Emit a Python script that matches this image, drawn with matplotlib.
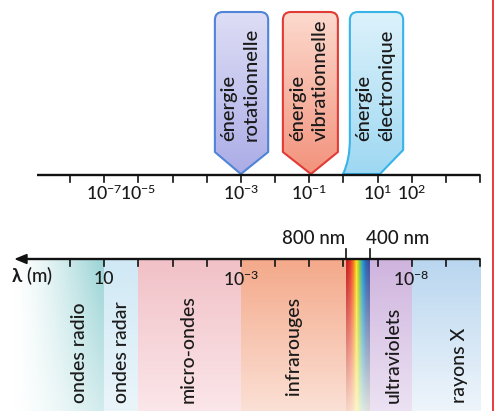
import numpy as np
import matplotlib
matplotlib.use('Agg')
import matplotlib.pyplot as plt
from matplotlib.path import Path
from matplotlib.patches import PathPatch, Polygon
from matplotlib.lines import Line2D
from matplotlib.colors import to_rgb

plt.rcParams['font.family'] = ['Lato', 'DejaVu Sans']
plt.rcParams['font.weight'] = 'medium'
plt.rcParams['mathtext.fontset'] = 'custom'
plt.rcParams['mathtext.rm'] = 'Lato'
plt.rcParams['mathtext.it'] = 'Lato:italic'
plt.rcParams['mathtext.bf'] = 'Lato:bold'

# ---------------- data ----------------
tick_index = list(range(13))
top_label_pos = [1, 2, 5, 7, 9, 10]
top_labels = [r'$10^{-7}$', r'$10^{-5}$', r'$10^{-3}$', r'$10^{-1}$', r'$10^{1}$', r'$10^{2}$']
bottom_label_pos = [1, 5, 10]
bottom_labels = ['10', r'$10^{-3}$', r'$10^{-8}$']
visible_edges = [8.08, 8.78]
visible_edge_labels = ['800 nm', '400 nm']

band_names = ['ondes radio', 'ondes radar', 'micro-ondes', 'infrarouges', 'ultraviolets', 'rayons X']
band_start = [-2.05, 1.0, 2.0, 5.0, 8.78, 10.0]
band_end = [1.0, 2.0, 5.0, 8.08, 10.0, 12.0]
band_top_color = ['#9ed5d7', '#d0e9f5', '#f1c1c7', '#f4a98a', '#cfb4de', '#b9d6ef']
band_bottom_color = ['#dff1f2', '#eaf5fa', '#fbe6e9', '#fbe0d5', '#ece2f3', '#eef5fb']
band_label_x = [0.29, 1.52, 3.45, 6.53, 9.45, 11.41]

rainbow_colors = ['#c8201e', '#e8362b', '#f47a20', '#f8e51d', '#8cc63f', '#1fa0d5', '#2a6ab3', '#3a4fa0']

energy_names = ['rotationnelle', 'vibrationnelle', 'électronique']
energy_left = [4.24, 6.23, 8.19]
energy_right = [5.80, 7.84, 9.75]
energy_tip_left = [5.0, 7.05, 7.99]
energy_tip_right = [5.0, 7.05, 9.07]
energy_top_color = ['#dedef6', '#fcdace', '#ddf2fb']
energy_bottom_color = ['#abace6', '#f3927c', '#9ed8f2']
energy_edge_color = ['#4f84d6', '#e23b36', '#37b3e8']

# ---------------- layout ----------------
W, H = 494, 411
SCALE = 34.17            # pixels per tick step
X0 = 70.0                # pixel position of tick 0
T_LEFT = -X0 / SCALE
T_RIGHT = (W - X0) / SCALE

TOP_AXIS_Y = 175
BOT_AXIS_Y = 259
BOX_TOP = 12
BOX_SHOULDER = 152
TEXT_COLOR = '#1a1a1a'
LABEL_SIZE = 13.5
TICK_LABEL_SIZE = 12.8

fig = plt.figure(figsize=(W / 100, H / 100), dpi=100)
ax = fig.add_axes([0, 0, 1, 1])
ax.set_xlim(T_LEFT, T_RIGHT)
ax.set_ylim(H, 0)
ax.axis('off')

def px(dx):
    return dx / SCALE

def vgrad(x0, x1, y0, y1, c_top, c_bot, zorder=1, clip=None):
    n = 128
    f = np.linspace(0, 1, n)[:, None, None]
    img = np.array(to_rgb(c_top))[None, None, :] * (1 - f) + np.array(to_rgb(c_bot))[None, None, :] * f
    im = ax.imshow(img, extent=(x0, x1, y1, y0), origin='upper', aspect='auto',
                   interpolation='bilinear', zorder=zorder)
    if clip is not None:
        im.set_clip_path(clip)
    return im

# ---------------- bands (bottom) ----------------
for i, name in enumerate(band_names):
    x0, x1 = band_start[i], band_end[i]
    if i == 0:
        ny, nx = 128, 128
        xs = np.linspace(x0, x1, nx)
        hpx = X0 + xs * SCALE
        h = np.clip((hpx - 15) / (100 - 15), 0, 1)[None, :] ** 1.3
        v = np.linspace(1.0, 0.45, ny)[:, None]
        a = (h * v)[:, :, None]
        teal = np.array(to_rgb(band_top_color[0]))[None, None, :]
        img = np.ones((ny, nx, 3)) * (1 - a) + teal * a
        ax.imshow(img, extent=(x0, x1, H, BOT_AXIS_Y), origin='upper', aspect='auto',
                  interpolation='bilinear', zorder=1)
    else:
        vgrad(x0, x1, BOT_AXIS_Y, H, band_top_color[i], band_bottom_color[i])

# visible rainbow
cols = np.array([to_rgb(c) for c in rainbow_colors])[None, :, :]
fade = np.linspace(0, 0.85, 128)[:, None, None]
cream = np.array(to_rgb('#fdf8e6'))[None, None, :]
img = cols * (1 - fade) + cream * fade
ax.imshow(img, extent=(visible_edges[0], visible_edges[1], H, BOT_AXIS_Y), origin='upper',
          aspect='auto', interpolation='bilinear', zorder=1)

# band labels
for name, xl in zip(band_names, band_label_x):
    ax.text(xl, 403 if name != 'infrarouges' else 395, name, rotation=90, ha='center', va='bottom',
            fontsize=14, color=TEXT_COLOR, zorder=5)

# ---------------- axes lines ----------------
lw = 1.7
ax.plot([px(37 - X0), tick_index[-1]], [TOP_AXIS_Y, TOP_AXIS_Y], color='#111111', lw=lw, zorder=6,
        solid_capstyle='butt')
for t in tick_index:
    ax.plot([t, t], [TOP_AXIS_Y, TOP_AXIS_Y + 7], color='#111111', lw=1.2, zorder=6)
for t, lab in zip(top_label_pos, top_labels):
    ax.text(t, 193, lab, ha='center', va='center', fontsize=TICK_LABEL_SIZE, color=TEXT_COLOR, zorder=6)

# bottom axis with arrow pointing left
ax.plot([px(24 - X0), tick_index[-1]], [BOT_AXIS_Y, BOT_AXIS_Y], color='#111111', lw=lw, zorder=6,
        solid_capstyle='butt')
arrow = Polygon([[px(16 - X0), BOT_AXIS_Y], [px(27 - X0), BOT_AXIS_Y - 4.5],
                 [px(27 - X0), BOT_AXIS_Y + 4.5]], closed=True, color='#111111', zorder=6)
ax.add_patch(arrow)
for t in tick_index:
    ax.plot([t, t], [BOT_AXIS_Y, BOT_AXIS_Y + 7], color='#111111', lw=1.2, zorder=6)
for t in visible_edges:
    ax.plot([t, t], [BOT_AXIS_Y - 10, BOT_AXIS_Y], color='#111111', lw=1.2, zorder=6)
for t, lab in zip(bottom_label_pos, bottom_labels):
    ax.text(t, 279, lab, ha='center', va='center', fontsize=TICK_LABEL_SIZE, color=TEXT_COLOR, zorder=6)
ax.text(visible_edges[0] - px(1), 238, visible_edge_labels[0], ha='right', va='center',
        fontsize=LABEL_SIZE, color=TEXT_COLOR, zorder=6)
ax.text(visible_edges[1] - px(4), 238, visible_edge_labels[1], ha='left', va='center',
        fontsize=LABEL_SIZE, color=TEXT_COLOR, zorder=6)
ax.text(px(11 - X0), 276, r'$\mathbf{\lambda}$' + ' (m)', ha='left', va='center', fontsize=LABEL_SIZE,
        color=TEXT_COLOR, zorder=6)

# ---------------- energy boxes (top) ----------------
r = 8.0
for i, name in enumerate(energy_names):
    L, R = energy_left[i], energy_right[i]
    rx = px(r)
    verts = [(L, BOX_SHOULDER if i < 2 else 140), (L, BOX_TOP + r), (L, BOX_TOP), (L + rx, BOX_TOP),
             (R - rx, BOX_TOP), (R, BOX_TOP), (R, BOX_TOP + r), (R, BOX_SHOULDER if i < 2 else 150)]
    codes = [Path.MOVETO, Path.LINETO, Path.CURVE3, Path.CURVE3, Path.LINETO, Path.CURVE3,
             Path.CURVE3, Path.LINETO]
    if i < 2:
        verts += [(energy_tip_left[i], TOP_AXIS_Y - 1), (L, BOX_SHOULDER)]
        codes += [Path.LINETO, Path.CLOSEPOLY]
    else:
        verts += [(energy_tip_right[i], TOP_AXIS_Y - 1), (energy_tip_left[i], TOP_AXIS_Y - 1),
                  (L, 160), (L, 140), (L, 140)]
        codes += [Path.LINETO, Path.LINETO, Path.CURVE3, Path.CURVE3, Path.CLOSEPOLY]
    path = Path(verts, codes)
    patch = PathPatch(path, facecolor='none', edgecolor=energy_edge_color[i], lw=1.5, zorder=4,
                      joinstyle='round')
    ax.add_patch(patch)
    vgrad(min(L, energy_tip_left[i]) - 0.1, R + 0.1, BOX_TOP, TOP_AXIS_Y,
          energy_top_color[i], energy_bottom_color[i], zorder=3, clip=patch)
    cx = (L + R) / 2 - px(1.5)
    ax.text(cx - px(11.5), 141, 'énergie', rotation=90, ha='center', va='bottom', fontsize=14.5,
            color=TEXT_COLOR, zorder=5)
    ax.text(cx + px(11.5), 141, name, rotation=90, ha='center', va='bottom', fontsize=14.5,
            color=TEXT_COLOR, zorder=5)

# red border line at right edge
fig.add_artist(Line2D([492.6 / W, 492.6 / W], [0, 1], color='#e31b1b', lw=1.2))

fig.savefig('out.png', dpi=100)
